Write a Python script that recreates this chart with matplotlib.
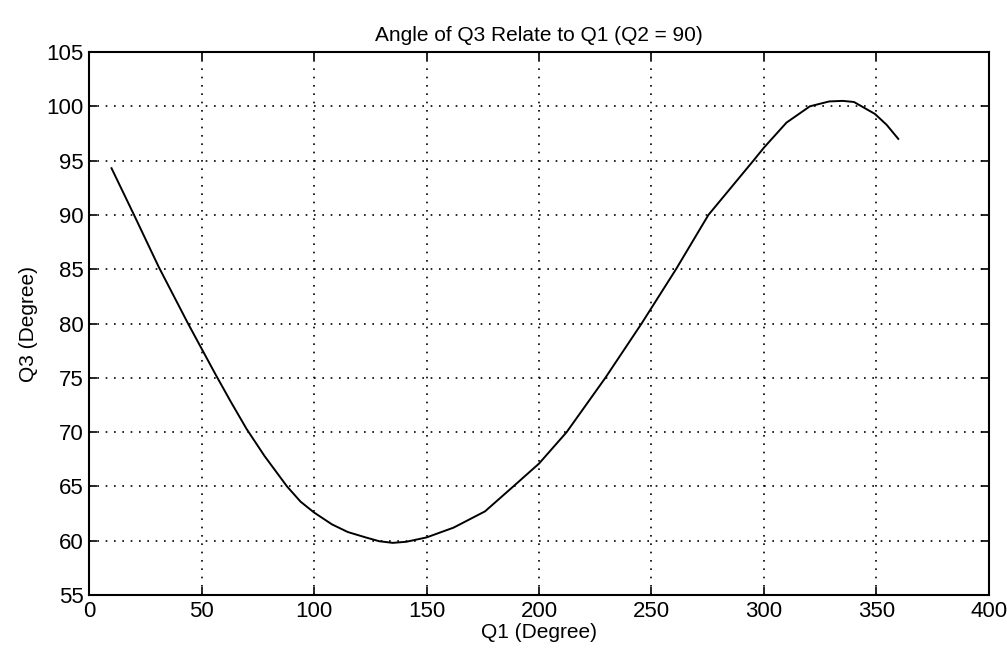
import matplotlib
matplotlib.use("Agg")
import matplotlib.pyplot as plt

# values
q1 = [10, 20, 31, 44, 50, 56, 63, 70, 78, 88, 94, 100, 108, 115, 123, 129,
      135, 141, 150, 162, 176, 188.6, 200, 212.3, 229.5, 245.6, 260.9, 275.3,
      295.3, 300, 310, 320.4, 329, 335, 340, 349.3, 354.5, 359.7]
q3 = [94.3, 90.0, 85.2, 80.0, 77.7, 75.4, 72.8, 70.3, 67.8, 65.0, 63.6, 62.6,
      61.5, 60.8, 60.3, 59.95, 59.8, 59.9, 60.3, 61.2, 62.7, 65.0, 67.1, 70.0,
      75.0, 80.0, 85.0, 90.0, 95.0, 96.2, 98.5, 100.0, 100.45, 100.5, 100.4,
      99.3, 98.3, 97.0]

xticks = [0, 50, 100, 150, 200, 250, 300, 350, 400]
yticks = [55, 60, 65, 70, 75, 80, 85, 90, 95, 100, 105]

plt.rcParams['font.family'] = ['Liberation Sans', 'DejaVu Sans']

fig = plt.figure(figsize=(10.07, 6.56), dpi=100)
ax = fig.add_axes([0.0884, 0.093, 0.8937, 0.8277])

ax.plot(q1, q3, color='black', linewidth=1.4)

ax.set_xlim(0, 400)
ax.set_ylim(55, 105)
ax.set_xticks(xticks)
ax.set_yticks(yticks)
ax.tick_params(direction='in', length=6, width=1.2, labelsize=16,
               top=True, right=True, pad=4)
ax.grid(True, color='black', linestyle=(0, (1, 4)), linewidth=1.2)
for s in ax.spines.values():
    s.set_linewidth(1.5)

ax.set_title("Angle of Q3 Relate to Q1 (Q2 = 90)", fontsize=15, pad=8)
ax.set_xlabel("Q1 (Degree)", fontsize=15, labelpad=1)
ax.set_ylabel("Q3 (Degree)", fontsize=15, labelpad=6)

fig.savefig("out.png", dpi=100)
